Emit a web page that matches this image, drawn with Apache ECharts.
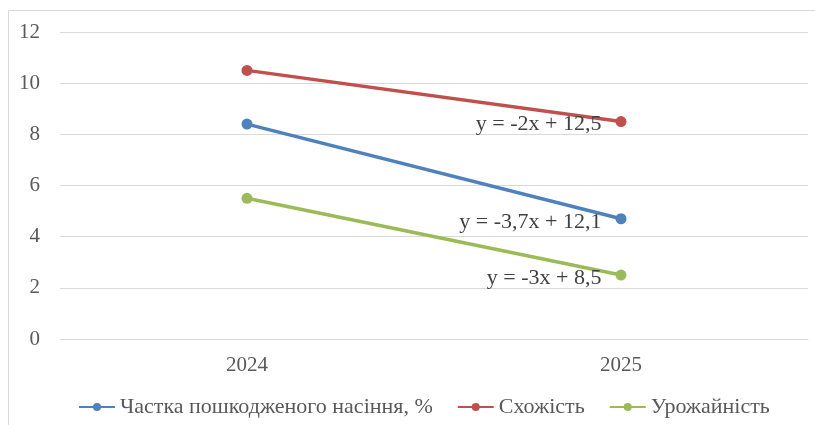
<!DOCTYPE html>
<html>
<head>
<meta charset="utf-8">
<script src="https://cdn.jsdelivr.net/npm/echarts@6/dist/echarts.min.js"></script>
<style>
  html,body{margin:0;padding:0;background:#fff;}
  #chart{width:815px;height:425px;}
</style>
</head>
<body>
<div id="chart"></div>
<script>
// дані з діаграми
var years = ['2024', '2025'];
var seriesNames = ['Частка пошкодженого насіння, %', 'Схожість', 'Урожайність'];
var damaged = [8.4, 4.7];
var germination = [10.5, 8.5];
var yieldVals = [5.5, 2.5];
var trendLabels = ['y = -3,7x + 12,1', 'y = -2x + 12,5', 'y = -3x + 8,5'];
var colors = ['#4F81BD', '#C0504D', '#9BBB59'];

var font = "'Liberation Serif', 'Times New Roman', serif";
var chart = echarts.init(document.getElementById('chart'));

function makeSeries(idx, values){
	// рівняння тренду підписуємо біля останньої точки
	let data = values.map(function(v, i){
		if (i === values.length - 1) {
			return {
				value: v,
				label: {
					show: true,
					position: 'left',
					distance: 14,
					offset: [0, 3],
					formatter: trendLabels[idx],
					color: '#404040',
					fontFamily: font,
					fontSize: 22
				}
			};
		}
		return v;
	});
	return {
		name: seriesNames[idx],
		type: 'line',
		data: data,
		symbol: 'circle',
		symbolSize: 11,
		lineStyle: {width: 3.5, color: colors[idx]},
		itemStyle: {color: colors[idx]},
		z: 3 - idx
	};
}

var option = {
	animation: false,
	color: colors,
	textStyle: {fontFamily: font},
	graphic: [{
		type: 'rect',
		shape: {x: 8.5, y: 10.5, width: 830, height: 440},
		style: {fill: 'none', stroke: '#d9d9d9', lineWidth: 1},
		silent: true
	}],
	grid: {left: 60, right: 7, top: 32, bottom: 86},
	legend: {
		left: 73,
		top: 391,
		itemWidth: 36,
		itemHeight: 10,
		itemGap: 24,
		textStyle: {fontFamily: font, fontSize: 22, color: '#595959'},
		data: seriesNames
	},
	xAxis: {
		type: 'category',
		data: years,
		boundaryGap: true,
		axisLine: {show: true, lineStyle: {color: '#d9d9d9', width: 1}},
		axisTick: {show: false},
		axisLabel: {fontFamily: font, fontSize: 21, color: '#595959', margin: 16}
	},
	yAxis: {
		type: 'value',
		min: 0,
		max: 12,
		interval: 2,
		axisLine: {show: false},
		axisTick: {show: false},
		axisLabel: {fontFamily: font, fontSize: 21, color: '#595959', margin: 20},
		splitLine: {lineStyle: {color: '#d9d9d9', width: 1}}
	},
	series: [
		makeSeries(0, damaged),
		makeSeries(1, germination),
		makeSeries(2, yieldVals)
	]
};

chart.setOption(option);
</script>
</body>
</html>
